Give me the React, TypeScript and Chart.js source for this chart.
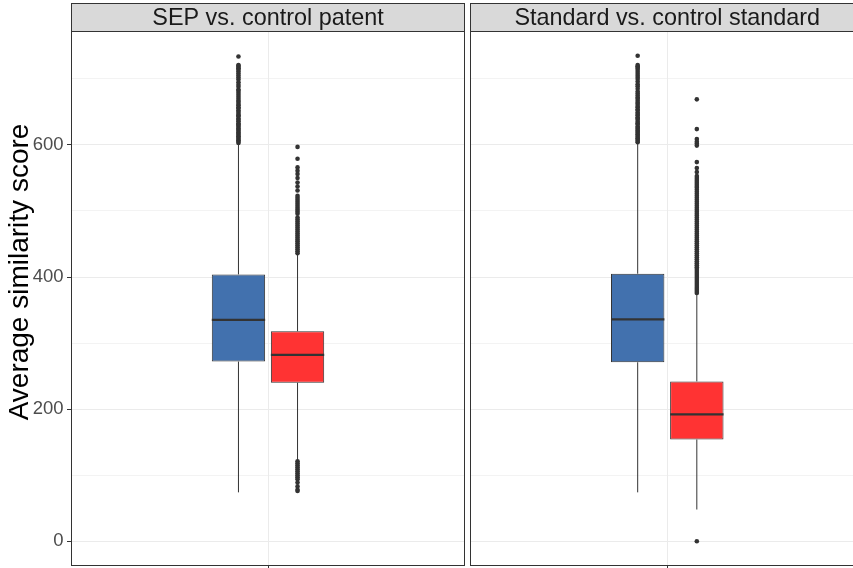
import React, { useEffect, useRef } from "react";
import { Chart, registerables } from "chart.js";

Chart.register(...registerables);

const FONT = "'Liberation Sans', Arial, Helvetica, sans-serif";

// ---------- data ----------
const panelTitles = ["SEP vs. control patent", "Standard vs. control standard"];
const groupNames = ["focal", "control"];
const categoryLabels = [""];
const yTitle = "Average similarity score";
const yGridValues = [0, 100, 200, 300, 400, 500, 600, 700];
const yLabelValues = [0, 200, 400, 600];
const yMin = -36.75;
const yMax = 771.75;

// [lower whisker, q1, median, q3, upper whisker]
const sepStats = [74, 272, 335, 404, 601];
const controlPatentStats = [123, 240, 282, 318, 434];
const standardStats = [74, 271, 336, 405, 602];
const controlStandardStats = [48, 154, 192, 242, 373];

const sepOutliers = [
  603, 605, 607, 609, 611, 613, 615, 617, 619, 621, 623, 625, 627, 629, 631, 633,
  636, 638, 640, 643, 645, 647, 650, 652, 655, 657, 660, 662, 665, 667, 670, 673,
  676, 679, 682, 684, 688, 691, 695, 699, 702, 705, 708, 711, 714, 716, 718, 720,
  721, 734,
];
const controlPatentOutliers = [
  436, 439, 442, 445, 448, 451, 454, 457, 460, 463, 466, 469, 472, 475, 478, 481,
  484, 487, 490, 496, 499, 502, 505, 508, 511, 514, 517, 520, 523, 531, 537, 543,
  550, 556, 561, 566, 579, 597, 121, 118, 115, 112, 109, 106, 103, 100, 97, 94, 89,
  83, 78, 76,
];
const standardOutliers = [
  604, 606, 608, 610, 612, 614, 616, 618, 620, 622, 624, 626, 628, 631, 633, 635,
  638, 640, 642, 645, 647, 649, 652, 654, 657, 659, 662, 664, 667, 670, 672, 675,
  678, 681, 685, 689, 692, 696, 700, 703, 706, 709, 712, 715, 717, 719, 721, 735,
];
const controlStandardOutliers = [
  376, 379, 382, 385, 388, 391, 394, 397, 400, 403, 406, 409, 412, 415, 418, 421,
  424, 427, 430, 433, 436, 439, 442, 445, 448, 451, 454, 457, 460, 463, 466, 469,
  472, 475, 478, 481, 484, 487, 490, 493, 496, 499, 502, 505, 508, 511, 514, 517,
  520, 523, 526, 529, 532, 535, 538, 541, 544, 547, 550, 553, 559, 565, 574, 599,
  602, 605, 609, 624, 669, 0,
];

const focalColor = "#4271AE";
const controlColor = "#FF3333";
const darkLine = "#333333";

type PanelProps = {
  title: string;
  stats: number[][];
  outliers: number[][];
  showY: boolean;
  left: number;
  width: number;
  padLeft: number;
  padRight: number;
};

function makePlugin(title: string, showY: boolean) {
  return {
    id: "facetBoxplot",
    beforeDatasetsDraw(chart: any) {
      const { ctx, scales } = chart;
      const y = scales.y;
      ctx.save();
      ctx.strokeStyle = darkLine;
      ctx.lineWidth = 1;
      chart.data.datasets.forEach((ds: any, i: number) => {
        const el: any = chart.getDatasetMeta(i).data[0];
        const [lw, q1, , q3, uw] = ds.stats;
        const x = el.x;
        ctx.beginPath();
        ctx.moveTo(x, y.getPixelForValue(uw));
        ctx.lineTo(x, y.getPixelForValue(q3));
        ctx.moveTo(x, y.getPixelForValue(q1));
        ctx.lineTo(x, y.getPixelForValue(lw));
        ctx.stroke();
      });
      ctx.restore();
    },
    afterDatasetsDraw(chart: any) {
      const { ctx, scales, chartArea: a } = chart;
      const y = scales.y;
      ctx.save();
      chart.data.datasets.forEach((ds: any, i: number) => {
        const el: any = chart.getDatasetMeta(i).data[0];
        const med = ds.stats[2];
        const py = y.getPixelForValue(med);
        ctx.strokeStyle = darkLine;
        ctx.lineWidth = 2.2;
        ctx.beginPath();
        ctx.moveTo(el.x - el.width / 2, py);
        ctx.lineTo(el.x + el.width / 2, py);
        ctx.stroke();
        ctx.fillStyle = darkLine;
        ds.outliers.forEach((v: number) => {
          ctx.beginPath();
          ctx.arc(el.x, y.getPixelForValue(v), 2.3, 0, Math.PI * 2);
          ctx.fill();
        });
      });
      // panel border
      ctx.strokeStyle = darkLine;
      ctx.lineWidth = 1;
      ctx.strokeRect(a.left, a.top, a.right - a.left, a.bottom - a.top);
      ctx.restore();
    },
    afterDraw(chart: any) {
      const { ctx, chartArea: a } = chart;
      ctx.save();
      const stripTop = 3.5;
      ctx.fillStyle = "#D9D9D9";
      ctx.fillRect(a.left, stripTop, a.right - a.left, a.top - stripTop);
      ctx.strokeStyle = darkLine;
      ctx.lineWidth = 1;
      ctx.strokeRect(a.left, stripTop, a.right - a.left, a.top - stripTop);
      ctx.fillStyle = "#1A1A1A";
      ctx.font = `23.4px ${FONT}`;
      ctx.textAlign = "center";
      ctx.textBaseline = "middle";
      ctx.fillText(title, (a.left + a.right) / 2, (stripTop + a.top) / 2 + 1);
      if (showY) {
        ctx.translate(20, 272);
        ctx.rotate(-Math.PI / 2);
        ctx.fillStyle = "#000000";
        ctx.font = `28px ${FONT}`;
        ctx.fillText(yTitle, 0, 0);
      }
      ctx.restore();
    },
  };
}

function Panel(props: PanelProps) {
  const ref = useRef<HTMLCanvasElement | null>(null);
  useEffect(() => {
    const canvas = ref.current;
    if (!canvas) return;
    const colors = [focalColor, controlColor];
    const chart = new Chart(canvas, {
      type: "bar",
      data: {
        labels: categoryLabels,
        datasets: groupNames.map((g, i) => ({
          label: g,
          data: [[props.stats[i][1], props.stats[i][3]]],
          backgroundColor: colors[i],
          borderColor: darkLine,
          borderWidth: 1,
          borderSkipped: false,
          categoryPercentage: 0.3006,
          barPercentage: 0.903,
          stats: props.stats[i],
          outliers: props.outliers[i],
        })) as any,
      },
      options: {
        responsive: false,
        animation: false,
        devicePixelRatio: 1,
        events: [],
        layout: { padding: { left: props.padLeft, right: props.padRight, top: 31.5, bottom: 0 } },
        plugins: { legend: { display: false }, tooltip: { enabled: false }, title: { display: false } },
        scales: {
          x: {
            type: "category",
            offset: true,
            afterFit: (s: any) => {
              s.height = 54.5;
            },
            grid: {
              color: "#EBEBEB",
              lineWidth: 1,
              offset: false,
              tickColor: darkLine,
              tickLength: 4.5,
            },
            border: { display: false },
            ticks: { font: { size: 18, family: FONT }, color: "#4D4D4D", padding: 2 },
          },
          y: {
            type: "linear",
            min: yMin,
            max: yMax,
            afterBuildTicks: (s: any) => {
              s.ticks = yGridValues.map((v) => ({ value: v }));
            },
            afterFit: (s: any) => {
              s.width = props.showY ? 71.5 : 0;
            },
            grid: {
              color: "#EBEBEB",
              lineWidth: (c: any) => (c.tick && yLabelValues.includes(c.tick.value) ? 1 : 0.6),
              tickColor: (c: any) =>
                c.tick && yLabelValues.includes(c.tick.value) ? darkLine : "rgba(0,0,0,0)",
              tickLength: 4.5,
              drawTicks: props.showY,
            },
            border: { display: false },
            ticks: {
              display: props.showY,
              autoSkip: false,
              padding: 3.5,
              color: "#4D4D4D",
              font: { size: 18.5, family: FONT },
              callback: (v: any) => (yLabelValues.includes(Number(v)) ? String(v) : ""),
            },
          },
        },
      },
      plugins: [makePlugin(props.title, props.showY)],
    } as any);
    return () => chart.destroy();
  }, []);
  return (
    <canvas
      ref={ref}
      width={props.width}
      height={620}
      style={{ position: "absolute", left: props.left, top: 0, width: props.width, height: 620 }}
    />
  );
}

export default function App() {
  return (
    <div
      style={{
        position: "fixed",
        left: 0,
        top: 0,
        width: 853,
        height: 568,
        overflow: "hidden",
        background: "#ffffff",
      }}
    >
      <Panel
        title={panelTitles[0]}
        stats={[sepStats, controlPatentStats]}
        outliers={[sepOutliers, controlPatentOutliers]}
        showY={true}
        left={0}
        width={466}
        padLeft={0}
        padRight={1.5}
      />
      <Panel
        title={panelTitles[1]}
        stats={[standardStats, controlStandardStats]}
        outliers={[standardOutliers, controlStandardOutliers]}
        showY={false}
        left={466}
        width={420}
        padLeft={4.5}
        padRight={22}
      />
    </div>
  );
}
